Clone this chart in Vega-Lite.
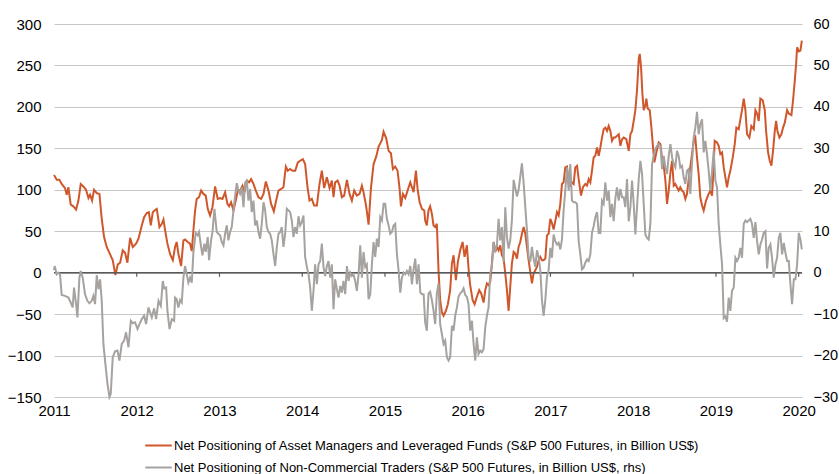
{
  "$schema": "https://vega.github.io/schema/vega-lite/v6.json",
  "width": 748,
  "height": 373,
  "autosize": {"type": "none"},
  "padding": {"left": 54, "top": 24, "right": 37, "bottom": 77},
  "background": "white",
  "config": {
    "view": {"stroke": null},
    "font": "Liberation Sans",
    "axis": {"labelFont": "Liberation Sans", "labelFontSize": 15, "labelColor": "#000000", "domain": false, "ticks": false, "title": null},
    "legend": {
      "orient": "none", "legendX": 90, "legendY": 407, "direction": "vertical",
      "symbolType": "stroke", "symbolSize": 700, "symbolStrokeWidth": 2,
      "labelFont": "Liberation Sans", "labelFontSize": 13, "labelColor": "#000000",
      "labelOffset": 1, "rowPadding": 0, "title": null, "labelLimit": 800
    }
  },
  "datasets": {
    "am": [
      {"t":2011.0,"v":118},{"t":2011.033,"v":112},{"t":2011.065,"v":112},{"t":2011.093,"v":107},{"t":2011.133,"v":102},{"t":2011.154,"v":94},{"t":2011.174,"v":103},{"t":2011.202,"v":82},{"t":2011.234,"v":80},{"t":2011.267,"v":76},{"t":2011.295,"v":87},{"t":2011.323,"v":107},{"t":2011.355,"v":104},{"t":2011.387,"v":100},{"t":2011.416,"v":90},{"t":2011.436,"v":94},{"t":2011.46,"v":87},{"t":2011.484,"v":100},{"t":2011.517,"v":96},{"t":2011.549,"v":95},{"t":2011.577,"v":65},{"t":2011.605,"v":43},{"t":2011.637,"v":31},{"t":2011.678,"v":22},{"t":2011.71,"v":15},{"t":2011.742,"v":-3},{"t":2011.771,"v":10},{"t":2011.799,"v":12},{"t":2011.831,"v":27},{"t":2011.859,"v":24},{"t":2011.887,"v":12},{"t":2011.92,"v":42},{"t":2011.952,"v":31},{"t":2011.992,"v":35},{"t":2012.021,"v":41},{"t":2012.061,"v":57},{"t":2012.089,"v":67},{"t":2012.121,"v":72},{"t":2012.146,"v":73},{"t":2012.17,"v":57},{"t":2012.194,"v":73},{"t":2012.226,"v":76},{"t":2012.242,"v":77},{"t":2012.275,"v":55},{"t":2012.303,"v":59},{"t":2012.323,"v":64},{"t":2012.343,"v":51},{"t":2012.371,"v":35},{"t":2012.404,"v":22},{"t":2012.436,"v":15},
      {"t":2012.463,"v":31},{"t":2012.483,"v":37},{"t":2012.503,"v":23},{"t":2012.536,"v":8},{"t":2012.564,"v":39},{"t":2012.584,"v":40},{"t":2012.616,"v":37},{"t":2012.644,"v":35},{"t":2012.665,"v":26},{"t":2012.685,"v":51},{"t":2012.705,"v":75},{"t":2012.725,"v":89},{"t":2012.753,"v":91},{"t":2012.778,"v":99},{"t":2012.806,"v":95},{"t":2012.834,"v":93},{"t":2012.858,"v":77},{"t":2012.886,"v":69},{"t":2012.915,"v":79},{"t":2012.947,"v":104},{"t":2012.979,"v":89},{"t":2013.007,"v":90},{"t":2013.036,"v":89},{"t":2013.068,"v":97},{"t":2013.096,"v":83},{"t":2013.116,"v":80},{"t":2013.14,"v":85},{"t":2013.169,"v":75},{"t":2013.197,"v":87},{"t":2013.221,"v":99},{"t":2013.249,"v":99},{"t":2013.278,"v":105},{"t":2013.302,"v":97},{"t":2013.33,"v":111},{"t":2013.358,"v":109},{"t":2013.382,"v":113},{"t":2013.411,"v":107},{"t":2013.439,"v":99},{"t":2013.471,"v":91},{"t":2013.503,"v":89},{"t":2013.532,"v":95},{"t":2013.56,"v":110},{"t":2013.592,"v":99},{"t":2013.624,"v":83},{"t":2013.657,"v":74},{"t":2013.685,"v":87},{"t":2013.713,"v":99},{"t":2013.745,"v":101},{"t":2013.773,"v":103},{"t":2013.802,"v":128},{"t":2013.826,"v":123},{"t":2013.854,"v":125},{"t":2013.882,"v":123},{"t":2013.915,"v":123},{"t":2013.947,"v":133},
      {"t":2013.975,"v":135},{"t":2014.007,"v":137},{"t":2014.035,"v":131},{"t":2014.064,"v":103},{"t":2014.088,"v":87},{"t":2014.116,"v":89},{"t":2014.144,"v":81},{"t":2014.177,"v":81},{"t":2014.209,"v":107},{"t":2014.237,"v":123},{"t":2014.265,"v":102},{"t":2014.298,"v":115},{"t":2014.33,"v":102},{"t":2014.358,"v":111},{"t":2014.378,"v":91},{"t":2014.398,"v":109},{"t":2014.427,"v":111},{"t":2014.451,"v":105},{"t":2014.479,"v":91},{"t":2014.507,"v":93},{"t":2014.54,"v":112},{"t":2014.572,"v":95},{"t":2014.6,"v":87},{"t":2014.628,"v":99},{"t":2014.66,"v":93},{"t":2014.693,"v":95},{"t":2014.721,"v":105},{"t":2014.741,"v":97},{"t":2014.773,"v":80},{"t":2014.802,"v":58},{"t":2014.83,"v":101},{"t":2014.862,"v":131},{"t":2014.894,"v":140},{"t":2014.923,"v":152},{"t":2014.943,"v":156},{"t":2014.963,"v":160},{"t":2014.983,"v":170},{"t":2015.015,"v":162},{"t":2015.044,"v":147},{"t":2015.072,"v":144},{"t":2015.096,"v":125},{"t":2015.124,"v":128},{"t":2015.152,"v":123},{"t":2015.177,"v":101},{"t":2015.193,"v":80},{"t":2015.217,"v":95},{"t":2015.245,"v":90},{"t":2015.273,"v":99},{"t":2015.306,"v":109},{"t":2015.326,"v":103},{"t":2015.346,"v":97},{"t":2015.374,"v":123},{"t":2015.394,"v":101},{"t":2015.419,"v":85},{"t":2015.447,"v":77},{"t":2015.475,"v":75},
      {"t":2015.486,"v":63},{"t":2015.506,"v":57},{"t":2015.526,"v":75},{"t":2015.546,"v":80},{"t":2015.567,"v":71},{"t":2015.587,"v":57},{"t":2015.607,"v":55},{"t":2015.627,"v":59},{"t":2015.647,"v":3},{"t":2015.667,"v":-33},{"t":2015.688,"v":-48},{"t":2015.708,"v":-52},{"t":2015.736,"v":-46},{"t":2015.76,"v":-38},{"t":2015.788,"v":-21},{"t":2015.809,"v":11},{"t":2015.829,"v":21},{"t":2015.857,"v":-9},{"t":2015.881,"v":13},{"t":2015.909,"v":27},{"t":2015.938,"v":37},{"t":2015.962,"v":19},{"t":2015.99,"v":33},{"t":2016.01,"v":5},{"t":2016.03,"v":-15},{"t":2016.059,"v":-33},{"t":2016.083,"v":-38},{"t":2016.111,"v":-29},{"t":2016.139,"v":-21},{"t":2016.163,"v":-25},{"t":2016.192,"v":-36},{"t":2016.212,"v":-21},{"t":2016.232,"v":-13},{"t":2016.252,"v":-15},{"t":2016.272,"v":-11},{"t":2016.292,"v":11},{"t":2016.313,"v":37},{"t":2016.333,"v":25},{"t":2016.353,"v":31},{"t":2016.373,"v":27},{"t":2016.393,"v":33},{"t":2016.413,"v":21},{"t":2016.434,"v":17},{"t":2016.454,"v":-1},{"t":2016.474,"v":-21},{"t":2016.494,"v":-46},{"t":2016.514,"v":-17},{"t":2016.534,"v":11},{"t":2016.555,"v":25},{"t":2016.575,"v":23},{"t":2016.595,"v":17},{"t":2016.615,"v":31},{"t":2016.635,"v":37},{"t":2016.655,"v":47},{"t":2016.676,"v":55},{"t":2016.696,"v":47},{"t":2016.716,"v":31},{"t":2016.736,"v":15},{"t":2016.756,"v":1},{"t":2016.776,"v":-13},{"t":2016.796,"v":-1},{"t":2016.817,"v":3},{"t":2016.837,"v":7},{"t":2016.857,"v":15},{"t":2016.877,"v":19},{"t":2016.897,"v":15},{"t":2016.917,"v":15},{"t":2016.938,"v":17},{"t":2016.958,"v":45},{"t":2016.978,"v":47},
      {"t":2016.998,"v":65},{"t":2017.018,"v":60},{"t":2017.038,"v":52},{"t":2017.058,"v":62},{"t":2017.079,"v":73},{"t":2017.099,"v":69},{"t":2017.119,"v":83},{"t":2017.139,"v":107},{"t":2017.159,"v":109},{"t":2017.179,"v":127},{"t":2017.2,"v":128},{"t":2017.22,"v":107},{"t":2017.24,"v":105},{"t":2017.26,"v":109},{"t":2017.28,"v":107},{"t":2017.3,"v":127},{"t":2017.321,"v":129},{"t":2017.341,"v":113},{"t":2017.369,"v":93},{"t":2017.393,"v":103},{"t":2017.421,"v":107},{"t":2017.442,"v":105},{"t":2017.462,"v":113},{"t":2017.482,"v":109},{"t":2017.502,"v":123},{"t":2017.522,"v":139},{"t":2017.542,"v":141},{"t":2017.563,"v":151},{"t":2017.583,"v":141},{"t":2017.603,"v":151},{"t":2017.623,"v":163},{"t":2017.643,"v":173},{"t":2017.663,"v":175},{"t":2017.684,"v":171},{"t":2017.704,"v":177},{"t":2017.724,"v":171},{"t":2017.744,"v":159},{"t":2017.764,"v":163},{"t":2017.784,"v":163},{"t":2017.804,"v":165},{"t":2017.825,"v":167},{"t":2017.845,"v":153},{"t":2017.865,"v":161},{"t":2017.885,"v":163},{"t":2017.917,"v":161},{"t":2017.946,"v":147},{"t":2017.966,"v":167},{"t":2017.986,"v":171},{"t":2018.006,"v":183},{"t":2018.026,"v":196},{"t":2018.046,"v":220},{"t":2018.067,"v":258},{"t":2018.079,"v":264},{"t":2018.095,"v":248},{"t":2018.111,"v":216},{"t":2018.127,"v":196},{"t":2018.147,"v":202},{"t":2018.159,"v":210},{"t":2018.175,"v":198},{"t":2018.2,"v":196},{"t":2018.22,"v":175},{"t":2018.24,"v":151},{"t":2018.256,"v":133},{"t":2018.28,"v":145},{"t":2018.308,"v":157},{"t":2018.329,"v":155},{"t":2018.349,"v":137},{"t":2018.369,"v":129},{"t":2018.389,"v":111},{"t":2018.409,"v":83},{"t":2018.429,"v":99},{"t":2018.45,"v":121},{"t":2018.47,"v":135},{"t":2018.49,"v":105},
      {"t":2018.509,"v":107},{"t":2018.529,"v":103},{"t":2018.549,"v":99},{"t":2018.569,"v":103},{"t":2018.59,"v":99},{"t":2018.61,"v":97},{"t":2018.63,"v":89},{"t":2018.65,"v":95},{"t":2018.678,"v":119},{"t":2018.711,"v":143},{"t":2018.731,"v":159},{"t":2018.751,"v":163},{"t":2018.771,"v":139},{"t":2018.791,"v":119},{"t":2018.811,"v":91},{"t":2018.832,"v":81},{"t":2018.852,"v":75},{"t":2018.88,"v":87},{"t":2018.912,"v":95},{"t":2018.932,"v":99},{"t":2018.953,"v":93},{"t":2018.973,"v":131},{"t":2018.985,"v":159},{"t":2019.013,"v":157},{"t":2019.033,"v":153},{"t":2019.053,"v":143},{"t":2019.074,"v":145},{"t":2019.094,"v":127},{"t":2019.114,"v":115},{"t":2019.134,"v":103},{"t":2019.154,"v":115},{"t":2019.174,"v":123},{"t":2019.203,"v":139},{"t":2019.227,"v":155},{"t":2019.247,"v":175},{"t":2019.275,"v":173},{"t":2019.295,"v":185},{"t":2019.315,"v":196},{"t":2019.336,"v":210},{"t":2019.356,"v":196},{"t":2019.376,"v":167},{"t":2019.404,"v":163},{"t":2019.428,"v":177},{"t":2019.457,"v":173},{"t":2019.477,"v":196},{"t":2019.497,"v":192},{"t":2019.517,"v":183},{"t":2019.537,"v":210},{"t":2019.565,"v":208},{"t":2019.59,"v":196},{"t":2019.606,"v":171},{"t":2019.63,"v":145},{"t":2019.65,"v":135},{"t":2019.67,"v":129},{"t":2019.69,"v":147},{"t":2019.711,"v":171},{"t":2019.727,"v":183},{"t":2019.743,"v":171},{"t":2019.767,"v":163},{"t":2019.791,"v":167},{"t":2019.811,"v":175},{"t":2019.832,"v":181},{"t":2019.86,"v":196},{"t":2019.88,"v":192},{"t":2019.912,"v":190},{"t":2019.932,"v":208},{"t":2019.953,"v":232},{"t":2019.969,"v":252},{"t":2019.981,"v":272},{"t":2020.001,"v":267},{"t":2020.021,"v":268},{"t":2020.038,"v":280}
    ],
    "nc": [
      {"t":2011.0,"v":0.6},{"t":2011.008,"v":1.6},{"t":2011.033,"v":-0.4},{"t":2011.053,"v":0},{"t":2011.073,"v":-0.4},{"t":2011.093,"v":-5.4},{"t":2011.133,"v":-5.6},{"t":2011.174,"v":-6},{"t":2011.202,"v":-7.2},{"t":2011.226,"v":-8.4},{"t":2011.242,"v":-3.6},{"t":2011.267,"v":-7.6},{"t":2011.283,"v":-10.8},{"t":2011.307,"v":-1.2},{"t":2011.323,"v":0.4},{"t":2011.347,"v":-1.2},{"t":2011.375,"v":-5.2},{"t":2011.404,"v":-6.8},{"t":2011.428,"v":-7.4},{"t":2011.456,"v":-6.8},{"t":2011.476,"v":-5.6},{"t":2011.496,"v":-7.6},{"t":2011.517,"v":-0.6},{"t":2011.537,"v":-4},{"t":2011.557,"v":-1.6},{"t":2011.577,"v":-6.8},{"t":2011.597,"v":-17.2},{"t":2011.621,"v":-22},{"t":2011.646,"v":-26.8},{"t":2011.67,"v":-30},{"t":2011.686,"v":-29.2},{"t":2011.71,"v":-20.4},{"t":2011.738,"v":-19},{"t":2011.767,"v":-18.8},{"t":2011.791,"v":-21.2},{"t":2011.819,"v":-17.2},{"t":2011.847,"v":-16.4},{"t":2011.871,"v":-14.4},{"t":2011.9,"v":-18},{"t":2011.928,"v":-11.6},{"t":2011.952,"v":-12.2},{"t":2011.98,"v":-12},{"t":2012.009,"v":-13.6},{"t":2012.033,"v":-12.4},{"t":2012.061,"v":-11.2},{"t":2012.089,"v":-10.4},{"t":2012.113,"v":-12.4},{"t":2012.142,"v":-8.4},{"t":2012.162,"v":-9.6},{"t":2012.182,"v":-10.8},{"t":2012.21,"v":-8.6},{"t":2012.234,"v":-11.2},{"t":2012.263,"v":-6.8},{"t":2012.291,"v":-8},{"t":2012.315,"v":-2},{"t":2012.331,"v":-3.8},{"t":2012.355,"v":-3.6},{"t":2012.371,"v":-9.2},{"t":2012.396,"v":-13.6},{"t":2012.424,"v":-11.2},{"t":2012.452,"v":-11.6},
      {"t":2012.463,"v":-6},{"t":2012.483,"v":-6.4},{"t":2012.503,"v":-8.4},{"t":2012.524,"v":-6.6},{"t":2012.544,"v":-7.2},{"t":2012.564,"v":-1.2},{"t":2012.584,"v":1.6},{"t":2012.604,"v":-0.4},{"t":2012.624,"v":-2.4},{"t":2012.644,"v":-1.2},{"t":2012.665,"v":-2.4},{"t":2012.685,"v":5},{"t":2012.713,"v":9.6},{"t":2012.737,"v":9},{"t":2012.753,"v":9.8},{"t":2012.778,"v":6.2},{"t":2012.794,"v":4.2},{"t":2012.818,"v":7},{"t":2012.834,"v":5},{"t":2012.858,"v":8.6},{"t":2012.874,"v":3},{"t":2012.898,"v":7.8},{"t":2012.915,"v":9.8},{"t":2012.939,"v":15.4},{"t":2012.967,"v":9.8},{"t":2012.987,"v":9.4},{"t":2013.007,"v":9},{"t":2013.028,"v":7.4},{"t":2013.048,"v":6.6},{"t":2013.068,"v":9.4},{"t":2013.088,"v":11.4},{"t":2013.108,"v":7.8},{"t":2013.128,"v":9.8},{"t":2013.148,"v":11},{"t":2013.169,"v":15},{"t":2013.189,"v":18.6},{"t":2013.209,"v":21.6},{"t":2013.229,"v":19.8},{"t":2013.249,"v":19},{"t":2013.269,"v":20.6},{"t":2013.29,"v":15.8},{"t":2013.31,"v":21.8},{"t":2013.33,"v":22.2},{"t":2013.35,"v":17.4},{"t":2013.37,"v":20.2},{"t":2013.39,"v":14.6},{"t":2013.411,"v":17.4},{"t":2013.431,"v":11.4},{"t":2013.451,"v":12.6},{"t":2013.471,"v":9.8},{"t":2013.491,"v":8.2},{"t":2013.511,"v":11.8},{"t":2013.532,"v":17},{"t":2013.552,"v":15},{"t":2013.572,"v":11},{"t":2013.592,"v":9.8},{"t":2013.612,"v":9.4},{"t":2013.632,"v":7.8},{"t":2013.652,"v":4.6},{"t":2013.673,"v":1.6},{"t":2013.693,"v":6.2},{"t":2013.713,"v":9.4},{"t":2013.733,"v":9.8},{"t":2013.753,"v":11},{"t":2013.773,"v":6.2},{"t":2013.794,"v":9.4},{"t":2013.814,"v":15.4},{"t":2013.834,"v":15},{"t":2013.854,"v":14.6},{"t":2013.874,"v":12.6},{"t":2013.894,"v":8.6},{"t":2013.915,"v":11},{"t":2013.935,"v":9.4},{"t":2013.955,"v":13.6},
      {"t":2013.975,"v":11.4},{"t":2013.995,"v":12.2},{"t":2014.015,"v":13.8},{"t":2014.035,"v":3.8},{"t":2014.056,"v":1.4},{"t":2014.076,"v":-0.4},{"t":2014.096,"v":-3.6},{"t":2014.116,"v":-9.2},{"t":2014.136,"v":-4.4},{"t":2014.156,"v":2},{"t":2014.177,"v":-2.8},{"t":2014.197,"v":2},{"t":2014.217,"v":2.8},{"t":2014.237,"v":7},{"t":2014.257,"v":1.4},{"t":2014.277,"v":-0.8},{"t":2014.298,"v":1.6},{"t":2014.318,"v":2.8},{"t":2014.338,"v":-1.2},{"t":2014.358,"v":2},{"t":2014.378,"v":-8.8},{"t":2014.398,"v":-1.6},{"t":2014.419,"v":-4},{"t":2014.439,"v":-6},{"t":2014.459,"v":-3.2},{"t":2014.479,"v":-4.8},{"t":2014.499,"v":-2},{"t":2014.519,"v":-5.2},{"t":2014.54,"v":1.6},{"t":2014.56,"v":-2},{"t":2014.58,"v":0},{"t":2014.6,"v":-0.8},{"t":2014.62,"v":-0.4},{"t":2014.64,"v":-2},{"t":2014.66,"v":-4.4},{"t":2014.681,"v":-0.4},{"t":2014.701,"v":6.6},{"t":2014.721,"v":-1.2},{"t":2014.741,"v":5},{"t":2014.761,"v":1.4},{"t":2014.781,"v":2},{"t":2014.802,"v":-6.4},{"t":2014.822,"v":-5.2},{"t":2014.842,"v":2},{"t":2014.862,"v":7.4},{"t":2014.882,"v":3.8},{"t":2014.902,"v":8.2},{"t":2014.923,"v":6.2},{"t":2014.943,"v":13.4},{"t":2014.963,"v":12.6},{"t":2014.983,"v":16.6},{"t":2015.003,"v":16.6},{"t":2015.023,"v":13},{"t":2015.044,"v":11.4},{"t":2015.064,"v":9.4},{"t":2015.084,"v":9.8},{"t":2015.104,"v":11.4},{"t":2015.124,"v":11.8},{"t":2015.144,"v":4.6},{"t":2015.165,"v":0.4},{"t":2015.185,"v":-4.8},{"t":2015.205,"v":-1.2},{"t":2015.225,"v":0},{"t":2015.245,"v":-0.4},{"t":2015.265,"v":0.4},{"t":2015.286,"v":-0.4},{"t":2015.306,"v":1.6},{"t":2015.326,"v":-2.8},{"t":2015.346,"v":0.8},{"t":2015.366,"v":3.4},{"t":2015.386,"v":-2.8},{"t":2015.406,"v":2},{"t":2015.427,"v":-4.8},{"t":2015.447,"v":-5.2},{"t":2015.467,"v":-5.2},
      {"t":2015.486,"v":-12},{"t":2015.506,"v":-14},{"t":2015.526,"v":-5},{"t":2015.546,"v":-4.6},{"t":2015.567,"v":-6.6},{"t":2015.587,"v":-9.2},{"t":2015.607,"v":-12.4},{"t":2015.627,"v":-5},{"t":2015.647,"v":-2.6},{"t":2015.667,"v":-12.4},{"t":2015.688,"v":-14.8},{"t":2015.708,"v":-17.2},{"t":2015.728,"v":-16.4},{"t":2015.748,"v":-20.4},{"t":2015.768,"v":-21.2},{"t":2015.788,"v":-20.4},{"t":2015.809,"v":-12.8},{"t":2015.829,"v":-14},{"t":2015.849,"v":-10.4},{"t":2015.869,"v":-8.4},{"t":2015.889,"v":-5.8},{"t":2015.909,"v":-5},{"t":2015.93,"v":-4.6},{"t":2015.95,"v":-3.8},{"t":2015.97,"v":-5.4},{"t":2015.99,"v":-5.8},{"t":2016.01,"v":-7.6},{"t":2016.03,"v":-14},{"t":2016.051,"v":-11.6},{"t":2016.071,"v":-17.2},{"t":2016.091,"v":-21.2},{"t":2016.111,"v":-15.6},{"t":2016.131,"v":-19.6},{"t":2016.151,"v":-18.8},{"t":2016.171,"v":-19.2},{"t":2016.192,"v":-18.4},{"t":2016.212,"v":-13.2},{"t":2016.232,"v":-10.4},{"t":2016.252,"v":-8.4},{"t":2016.272,"v":-0.2},{"t":2016.292,"v":1.4},{"t":2016.313,"v":7.4},{"t":2016.333,"v":5.4},{"t":2016.353,"v":6.6},{"t":2016.373,"v":13},{"t":2016.393,"v":7.8},{"t":2016.413,"v":11},{"t":2016.434,"v":2.6},{"t":2016.454,"v":15.8},{"t":2016.474,"v":8.6},{"t":2016.494,"v":5.8},{"t":2016.514,"v":7.8},{"t":2016.534,"v":12.6},{"t":2016.555,"v":22.4},{"t":2016.575,"v":20.4},{"t":2016.595,"v":18.4},{"t":2016.615,"v":20},{"t":2016.635,"v":23.2},{"t":2016.655,"v":26.4},{"t":2016.676,"v":21.6},{"t":2016.696,"v":15.8},{"t":2016.716,"v":10.2},{"t":2016.736,"v":3.8},{"t":2016.756,"v":2.6},{"t":2016.776,"v":6.2},{"t":2016.796,"v":3.4},{"t":2016.817,"v":1.4},{"t":2016.837,"v":5.4},{"t":2016.857,"v":3.8},{"t":2016.877,"v":0.6},{"t":2016.897,"v":-6.6},{"t":2016.917,"v":-10.4},{"t":2016.938,"v":-6.6},{"t":2016.958,"v":-1},{"t":2016.978,"v":0.6},
      {"t":2016.998,"v":6},{"t":2017.018,"v":3.6},{"t":2017.038,"v":9.2},{"t":2017.058,"v":7.6},{"t":2017.079,"v":6.8},{"t":2017.099,"v":7.2},{"t":2017.119,"v":5.6},{"t":2017.139,"v":8},{"t":2017.159,"v":15},{"t":2017.179,"v":19.8},{"t":2017.2,"v":25.4},{"t":2017.22,"v":19.8},{"t":2017.24,"v":26.2},{"t":2017.26,"v":17.4},{"t":2017.28,"v":17},{"t":2017.3,"v":17},{"t":2017.321,"v":16.6},{"t":2017.341,"v":7.6},{"t":2017.361,"v":4.4},{"t":2017.381,"v":0.8},{"t":2017.401,"v":1.2},{"t":2017.421,"v":2.4},{"t":2017.442,"v":3.2},{"t":2017.462,"v":2.8},{"t":2017.482,"v":4.4},{"t":2017.502,"v":9.6},{"t":2017.522,"v":11.2},{"t":2017.542,"v":13.4},{"t":2017.563,"v":14.6},{"t":2017.583,"v":9.6},{"t":2017.603,"v":9.6},{"t":2017.623,"v":17.4},{"t":2017.643,"v":16.6},{"t":2017.663,"v":21.8},{"t":2017.684,"v":17.4},{"t":2017.704,"v":19.8},{"t":2017.724,"v":13.4},{"t":2017.744,"v":16.6},{"t":2017.764,"v":12.4},{"t":2017.784,"v":17.8},{"t":2017.804,"v":20.6},{"t":2017.825,"v":17.4},{"t":2017.845,"v":20.2},{"t":2017.865,"v":18.2},{"t":2017.885,"v":18.2},{"t":2017.905,"v":15.8},{"t":2017.925,"v":22.6},{"t":2017.946,"v":12.4},{"t":2017.966,"v":15.8},{"t":2017.986,"v":22.2},{"t":2018.006,"v":16.6},{"t":2018.026,"v":9.2},{"t":2018.046,"v":15.8},{"t":2018.067,"v":22.6},{"t":2018.087,"v":27},{"t":2018.107,"v":23.8},{"t":2018.127,"v":16.6},{"t":2018.147,"v":9.2},{"t":2018.167,"v":8.4},{"t":2018.188,"v":8},{"t":2018.208,"v":12},{"t":2018.228,"v":26.2},{"t":2018.248,"v":28.2},{"t":2018.268,"v":29.8},{"t":2018.288,"v":30.6},{"t":2018.308,"v":31},{"t":2018.329,"v":30.6},{"t":2018.349,"v":25},{"t":2018.369,"v":28.2},{"t":2018.389,"v":25.4},{"t":2018.409,"v":23.8},{"t":2018.429,"v":28.2},{"t":2018.45,"v":31},{"t":2018.47,"v":27.8},{"t":2018.49,"v":26.2},
      {"t":2018.509,"v":25.4},{"t":2018.529,"v":29.4},{"t":2018.549,"v":28.2},{"t":2018.569,"v":25.4},{"t":2018.59,"v":25.8},{"t":2018.61,"v":23},{"t":2018.63,"v":21.4},{"t":2018.65,"v":24.6},{"t":2018.67,"v":25},{"t":2018.69,"v":19},{"t":2018.711,"v":26.6},{"t":2018.731,"v":32.6},{"t":2018.751,"v":35},{"t":2018.771,"v":38.8},{"t":2018.791,"v":33.4},{"t":2018.811,"v":35.8},{"t":2018.832,"v":37},{"t":2018.852,"v":29},{"t":2018.872,"v":31.8},{"t":2018.892,"v":28.6},{"t":2018.912,"v":24.6},{"t":2018.932,"v":19.8},{"t":2018.953,"v":24.6},{"t":2018.973,"v":29.4},{"t":2018.993,"v":22.2},{"t":2019.013,"v":20.6},{"t":2019.033,"v":11.8},{"t":2019.053,"v":6.8},{"t":2019.074,"v":2},{"t":2019.094,"v":-11},{"t":2019.114,"v":-10.6},{"t":2019.134,"v":-11.8},{"t":2019.154,"v":-6},{"t":2019.174,"v":-9.2},{"t":2019.194,"v":-4.4},{"t":2019.215,"v":-3.6},{"t":2019.235,"v":3.6},{"t":2019.255,"v":2.8},{"t":2019.275,"v":3.6},{"t":2019.295,"v":6},{"t":2019.315,"v":3.6},{"t":2019.336,"v":11.8},{"t":2019.356,"v":12.6},{"t":2019.376,"v":12.2},{"t":2019.396,"v":12.6},{"t":2019.416,"v":13},{"t":2019.436,"v":11.8},{"t":2019.457,"v":8.4},{"t":2019.477,"v":12.2},{"t":2019.497,"v":7.6},{"t":2019.517,"v":4.4},{"t":2019.537,"v":6.8},{"t":2019.557,"v":8},{"t":2019.577,"v":9.6},{"t":2019.598,"v":10},{"t":2019.618,"v":1},{"t":2019.638,"v":6},{"t":2019.658,"v":6.8},{"t":2019.678,"v":3.6},{"t":2019.698,"v":-1.2},{"t":2019.719,"v":2},{"t":2019.739,"v":3.6},{"t":2019.759,"v":8.4},{"t":2019.779,"v":9.6},{"t":2019.799,"v":4.4},{"t":2019.82,"v":7.2},{"t":2019.84,"v":4.8},{"t":2019.86,"v":2.8},{"t":2019.88,"v":2.8},{"t":2019.9,"v":-2.8},{"t":2019.92,"v":-7.6},{"t":2019.941,"v":-1.6},{"t":2019.961,"v":-1.6},{"t":2019.981,"v":2},{"t":2020.001,"v":9.6},{"t":2020.021,"v":8},{"t":2020.038,"v":5.6}
    ],
    "zero": [{"v":0}],
    "ticks": [{"t":2012,"a":0,"b":-5},{"t":2013,"a":0,"b":-5},{"t":2014,"a":0,"b":-5},{"t":2015,"a":0,"b":-5},{"t":2016,"a":0,"b":-5},{"t":2017,"a":0,"b":-5},{"t":2018,"a":0,"b":-5},{"t":2019,"a":0,"b":-5},{"t":2020,"a":0,"b":-5}]
  },
  "layer": [
    {
      "data": {"name": "am"},
      "mark": {"type": "line", "strokeWidth": 2, "interpolate": "linear"},
      "encoding": {
        "x": {"field": "t", "type": "quantitative", "scale": {"domain": [2011, 2020.04], "nice": false, "zero": false},
              "axis": {"values": [2011,2012,2013,2014,2015,2016,2017,2018,2019,2020], "format": "d", "grid": false, "labelPadding": 6, "labelFlush": false, "labelOverlap": false}},
        "y": {"field": "v", "type": "quantitative", "scale": {"domain": [-150, 300], "nice": false, "zero": false},
              "axis": {"orient": "left", "values": [-150,-100,-50,0,50,100,150,200,250,300], "grid": true, "gridColor": "#C6C6C6", "gridWidth": 1, "labelPadding": 13}},
        "color": {"datum": "Net Positioning of Asset Managers and Leveraged Funds (S&P 500 Futures, in Billion US$)", "type": "nominal",
                  "scale": {"domain": ["Net Positioning of Asset Managers and Leveraged Funds (S&P 500 Futures, in Billion US$)", "Net Positioning of Non-Commercial Traders (S&P 500 Futures, in Billion US$, rhs)"], "range": ["#D0572B", "#A5A29F"]}}
      }
    },
    {
      "data": {"name": "zero"},
      "mark": {"type": "rule", "color": "#5A5A5A", "strokeWidth": 1.5},
      "encoding": {
        "y": {"field": "v", "type": "quantitative", "scale": {"domain": [-150, 300], "nice": false, "zero": false}, "axis": null}
      }
    },
    {
      "data": {"name": "ticks"},
      "mark": {"type": "rule", "color": "#5A5A5A", "strokeWidth": 1.2},
      "encoding": {
        "x": {"field": "t", "type": "quantitative"},
        "y": {"field": "a", "type": "quantitative", "scale": {"domain": [-150, 300], "nice": false, "zero": false}, "axis": null},
        "y2": {"field": "b"}
      }
    },
    {
      "data": {"name": "nc"},
      "mark": {"type": "line", "strokeWidth": 2, "interpolate": "linear"},
      "encoding": {
        "x": {"field": "t", "type": "quantitative"},
        "y": {"field": "v", "type": "quantitative", "scale": {"domain": [-30, 60], "nice": false, "zero": false},
              "axis": {"orient": "right", "values": [-30,-20,-10,0,10,20,30,40,50,60], "grid": false, "labelPadding": 11, "labelFontSize": 14.5}},
        "color": {"datum": "Net Positioning of Non-Commercial Traders (S&P 500 Futures, in Billion US$, rhs)", "type": "nominal"}
      }
    }
  ],
  "resolve": {"scale": {"y": "independent"}, "axis": {"y": "independent"}}
}
